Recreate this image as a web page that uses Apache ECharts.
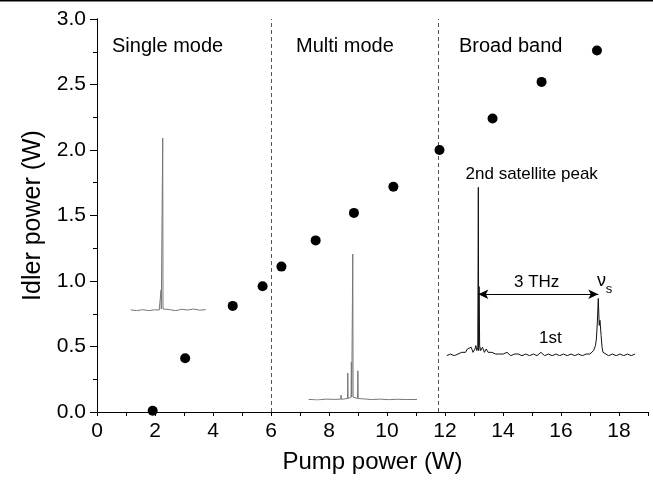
<!DOCTYPE html>
<html>
<head>
<meta charset="utf-8">
<script src="https://cdn.jsdelivr.net/npm/echarts@6/dist/echarts.min.js"></script>
<style>
  html, body { margin: 0; padding: 0; background: #fff; }
  #main { width: 653px; height: 480px; }
</style>
</head>
<body>
<div id="main"></div>
<script>
// idler power vs pump power
var pumpPower = [1.92, 3.04, 4.68, 5.71, 6.36, 7.54, 8.86, 10.22, 11.81, 13.64, 15.33, 17.24];
var idlerPower = [0.01, 0.41, 0.81, 0.96, 1.11, 1.31, 1.52, 1.72, 2.00, 2.24, 2.52, 2.76];
// regime boundaries (W)
var regimeBounds = [6.0, 11.77];
var regimeNames = ['Single mode', 'Multi mode', 'Broad band'];
var xTicks = [0, 2, 4, 6, 8, 10, 12, 14, 16, 18];
var yTicks = [0.0, 0.5, 1.0, 1.5, 2.0, 2.5, 3.0];

// inset spectra (relative frequency %, relative intensity)
var singleX = [0, 8, 16, 24, 32, 38, 40.2, 40.5, 40.8, 42.3, 42.7, 43.1, 44.5, 52, 60, 68, 76, 84, 92, 100];
var singleY = [0.005, 0, 0.006, 0, 0.005, 0.004, 0.004, 0.12, 0.01, 0.02, 1.0, 0.01, 0.004, 0.006, 0, 0.008, 0.004, 0.01, 0.003, 0.006];

var multiX = [0, 8, 16, 24, 29.6, 29.9, 30.2, 32, 35.8, 36.1, 36.4, 39.1, 39.4, 39.7, 40.4, 40.7, 41.0, 45.1, 45.4, 45.7, 50, 58, 66, 74, 82, 90, 100];
var multiY = [0.004, 0, 0.006, 0.004, 0.006, 0.034, 0.005, 0.005, 0.01, 0.185, 0.01, 0.02, 0.26, 0.02, 0.02, 1.0, 0.02, 0.01, 0.2, 0.01, 0.008, 0.003, 0.006, 0.002, 0.005, 0.003, 0.004];

var broadX = [0, 2, 4, 6, 8, 9, 10, 11, 12, 13, 14, 15, 15.5, 16, 16.5, 16.8, 17.0, 17.2, 17.5, 18, 19, 20, 21, 22, 23, 24, 25, 26, 27, 28, 30, 32, 34, 36, 38, 40, 42, 44, 46, 48, 50, 52, 54, 56, 58, 60, 62, 64, 66, 68, 70, 72, 74, 76, 77, 78, 79, 79.5, 80, 80.5, 81, 81.4, 82, 82.5, 83, 84, 86, 88, 90, 92, 94, 96, 98, 100];
var broadY = [0.00, 0.01, 0.00, 0.01, 0.02, 0.03, 0.02, 0.04, 0.03, 0.05, 0.02, 0.04, 0.06, 0.03, 0.05, 1.00, 0.03, 0.41, 0.06, 0.03, 0.05, 0.02, 0.04, 0.02, 0.03, 0.02, 0.03, 0.01, 0.02, 0.01, 0.01, 0.02, 0.00, 0.01, 0.01, 0.00, 0.01, 0.00, 0.01, 0.00, 0.02, 0.00, 0.01, 0.00, 0.01, 0.00, 0.01, 0.00, 0.01, 0.00, 0.01, 0.00, 0.01, 0.01, 0.02, 0.03, 0.06, 0.10, 0.20, 0.34, 0.18, 0.21, 0.12, 0.05, 0.02, 0.01, 0.00, 0.01, 0.00, 0.01, 0.00, 0.01, 0.00, 0.01];
var arrowY = 0.365;
var arrowFrom = 16.8, arrowTo = 80.5;

function pairs (xs, ys) {
  var out = [];
  for (var i = 0; i < xs.length; i++) out.push([xs[i], ys[i]]);
  return out;
}

var chart = echarts.init(document.getElementById('main'));
var font = 'Liberation Sans, Arial, sans-serif';
var black = '#000';

// inset axis helper
function insetAxis (idx) {
  return { gridIndex: idx, type: 'value', min: 0, max: 100, show: false };
}
function insetYAxis (idx) {
  return { gridIndex: idx, type: 'value', min: 0, max: 1, show: false };
}

var option = {
  animation: false,
  backgroundColor: '#fff',
  grid: [
    { left: 97, right: 5, top: 19, bottom: 68 },
    { left: 130.7, top: 138, width: 75, height: 172.7 },
    { left: 308.7, top: 254, width: 108.3, height: 146 },
    { left: 446.7, top: 187.3, width: 188.3, height: 168.4 }
  ],
  xAxis: [
    {
      gridIndex: 0, type: 'value', min: 0, max: 19, interval: 1,
      name: 'Pump power (W)', nameLocation: 'middle', nameGap: 38,
      nameTextStyle: { fontFamily: font, fontSize: 24, color: black },
      axisLine: { lineStyle: { color: black, width: 1 } },
      axisTick: { length: 4, lineStyle: { color: black } },
      axisLabel: {
        fontFamily: font, fontSize: 21, color: black, margin: 9,
        showMaxLabel: false,
        formatter: function (v) { return xTicks.indexOf(v) >= 0 ? String(v) : ''; }
      },
      splitLine: { show: false }
    },
    {
      gridIndex: 0, type: 'value', position: 'top', min: 0, max: 19, interval: 1,
      axisLine: { lineStyle: { color: black, width: 1 } },
      axisTick: { inside: true, length: 4, lineStyle: { color: black } },
      axisLabel: { show: false },
      splitLine: { show: false }
    },
    insetAxis(1), insetAxis(2), insetAxis(3)
  ],
  yAxis: [
    {
      gridIndex: 0, type: 'value', min: 0, max: 3, interval: 0.5,
      name: 'Idler power (W)', nameLocation: 'middle', nameGap: 50,
      nameTextStyle: { fontFamily: font, fontSize: 25, color: black },
      axisLine: { lineStyle: { color: black, width: 1 } },
      axisTick: { length: 7, lineStyle: { color: black } },
      minorTick: { show: true, splitNumber: 2, length: 4, lineStyle: { color: black } },
      axisLabel: {
        fontFamily: font, fontSize: 21, color: black, margin: 11,
        formatter: function (v) { return v.toFixed(1); }
      },
      splitLine: { show: false }
    },
    {
      gridIndex: 0, type: 'value', position: 'right', min: 0, max: 3, interval: 0.25,
      axisLine: { lineStyle: { color: black, width: 1 } },
      axisTick: { inside: true, length: 4, lineStyle: { color: black } },
      axisLabel: { show: false },
      splitLine: { show: false }
    },
    insetYAxis(1), insetYAxis(2), insetYAxis(3)
  ],
  series: [
    {
      type: 'scatter', xAxisIndex: 0, yAxisIndex: 0,
      data: pairs(pumpPower, idlerPower),
      symbol: 'circle', symbolSize: 10,
      itemStyle: { color: black, opacity: 1 },
      z: 5,
      markLine: {
        silent: true, symbol: 'none', label: { show: false },
        lineStyle: { color: '#555', width: 1, type: [4, 3] },
        data: regimeBounds.map(function (b) { return { xAxis: b }; })
      }
    },
    {
      type: 'line', xAxisIndex: 2, yAxisIndex: 2,
      data: pairs(singleX, singleY), showSymbol: false,
      lineStyle: { color: '#777', width: 1 }
    },
    {
      type: 'line', xAxisIndex: 3, yAxisIndex: 3,
      data: pairs(multiX, multiY), showSymbol: false,
      lineStyle: { color: '#777', width: 1 }
    },
    {
      type: 'line', xAxisIndex: 4, yAxisIndex: 4,
      data: pairs(broadX, broadY), showSymbol: false,
      lineStyle: { color: '#111', width: 1 },
      markLine: {
        silent: true, symbol: ['arrow', 'arrow'], symbolSize: [7, 10],
        label: { show: false },
        lineStyle: { color: black, width: 1, type: 'solid' },
        data: [[{ coord: [arrowFrom, arrowY] }, { coord: [arrowTo, arrowY] }]]
      }
    }
  ],
  graphic: [
    { type: 'rect', shape: { x: 0, y: 0, width: 653, height: 1.5 }, style: { fill: black } },
    { type: 'text', left: 112, top: 36, style: { text: regimeNames[0], font: '20px ' + font, fill: black } },
    { type: 'text', left: 296, top: 36, style: { text: regimeNames[1], font: '20px ' + font, fill: black } },
    { type: 'text', left: 459, top: 36, style: { text: regimeNames[2], font: '20px ' + font, fill: black } },
    { type: 'text', x: 531.7, y: 174, style: { text: '2nd satellite peak', font: '17px ' + font, fill: black, align: 'center', verticalAlign: 'middle' } },
    { type: 'text', x: 536.7, y: 282.7, style: { text: '3 THz', font: '17px ' + font, fill: black, align: 'center', verticalAlign: 'middle' } },
    { type: 'text', x: 550.3, y: 338.3, style: { text: '1st', font: '17px ' + font, fill: black, align: 'center', verticalAlign: 'middle' } },
    { type: 'text', x: 601.5, y: 281, style: { text: 'ν', font: '18px ' + font, fill: black, align: 'center', verticalAlign: 'middle' } },
    { type: 'text', x: 609, y: 289, style: { text: 's', font: '13px ' + font, fill: black, align: 'center', verticalAlign: 'middle' } }
  ]
};
chart.setOption(option);
</script>
</body>
</html>
